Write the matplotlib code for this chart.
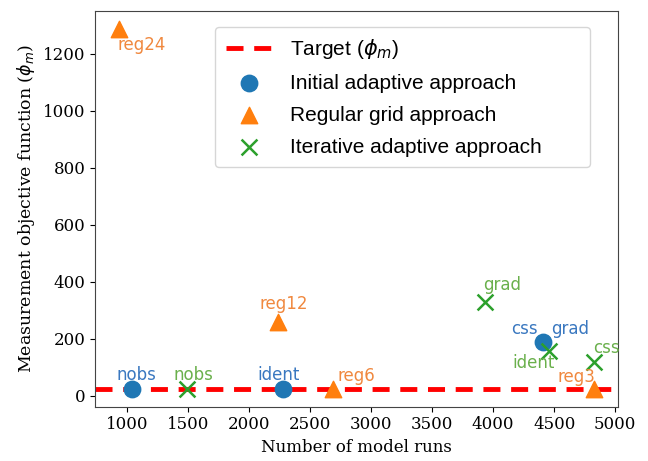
import matplotlib
matplotlib.use("Agg")
import matplotlib.pyplot as plt

# Data
target = 25
init_x = [1040, 2280, 4410]
init_y = [25, 25, 190]
init_lbl = ["nobs", "ident", "css"]

reg_x = [935, 2240, 2690, 4825]
reg_y = [1288, 260, 25, 25]
reg_lbl = ["reg24", "reg12", "reg6", "reg3"]

iter_x = [1490, 3930, 4460, 4830]
iter_y = [25, 330, 158, 118]
iter_lbl = ["nobs", "grad", "ident", "css"]

fig, ax = plt.subplots(figsize=(6.48, 4.61), dpi=100)
fig.subplots_adjust(left=0.147, right=0.954, top=0.977, bottom=0.118)

ax.axhline(target, color="red", ls=(0, (3.5, 2.2)), lw=3.5, zorder=1, label=r"Target ($\phi_m$)")
ax.scatter(init_x, init_y, s=140, marker="o", color="#1f77b4", zorder=3, label="Initial adaptive approach")
ax.scatter(reg_x, reg_y, s=140, marker="^", color="#ff7f0e", zorder=3, label="Regular grid approach")
ax.scatter(iter_x, iter_y, s=130, marker="x", color="#2ca02c", linewidths=1.8, zorder=3, label="Iterative adaptive approach")
ax.margins(x=0.05, y=0.05)

bc, oc, gc = "#3a78c0", "#f0883e", "#6ab04c"
fs = 12
# (label, x, y, color, dx, dy, ha)
ann = [
    (init_lbl[0], init_x[0], init_y[0], bc, 3, 10, "center"),
    (init_lbl[1], init_x[1], init_y[1], bc, -3, 10, "center"),
    (init_lbl[2], init_x[2], init_y[2], bc, -4, 9, "right"),
    ("grad", init_x[2], init_y[2], bc, 6, 9, "left"),
    (reg_lbl[0], reg_x[0], reg_y[0], oc, -1, -12, "left"),
    (reg_lbl[1], reg_x[1], reg_y[1], oc, 4, 13, "center"),
    (reg_lbl[2], reg_x[2], reg_y[2], oc, 3, 9, "left"),
    (reg_lbl[3], reg_x[3], reg_y[3], oc, 1, 8, "right"),
    (iter_lbl[0], iter_x[0], iter_y[0], gc, 5, 10, "center"),
    (iter_lbl[1], iter_x[1], iter_y[1], gc, -1, 12, "left"),
    (iter_lbl[2], iter_x[2], iter_y[2], gc, -11, -9, "center"),
    (iter_lbl[3], iter_x[3], iter_y[3], gc, -1, 10, "left"),
]
for t, x, y, c, dx, dy, ha in ann:
    ax.annotate(t, (x, y), xytext=(dx, dy), textcoords="offset points",
                ha=ha, va="center", color=c, fontsize=fs, family="DejaVu Sans")

ax.set_xticks(range(1000, 5001, 500))
ax.set_yticks(range(0, 1201, 200))
for lab in ax.get_xticklabels() + ax.get_yticklabels():
    lab.set_family("DejaVu Serif")
ax.tick_params(labelsize=12)
ax.set_xlabel("Number of model runs", family="DejaVu Serif", fontsize=12)
ax.set_ylabel(r"Measurement objective function ($\boldsymbol{\phi_m}$)", family="DejaVu Serif", fontsize=12.5)

leg = ax.legend(loc="upper left", bbox_to_anchor=(0.2294, 0.5, 0.717, 0.4596), mode="expand",
                prop={"family": "Liberation Sans", "size": 15},
                handlelength=2.2, handletextpad=0.9, borderpad=0.5, labelspacing=0.62, borderaxespad=0.0)
for s in ax.spines.values():
    s.set_color("#444444")

fig.savefig("out.png", dpi=100)
